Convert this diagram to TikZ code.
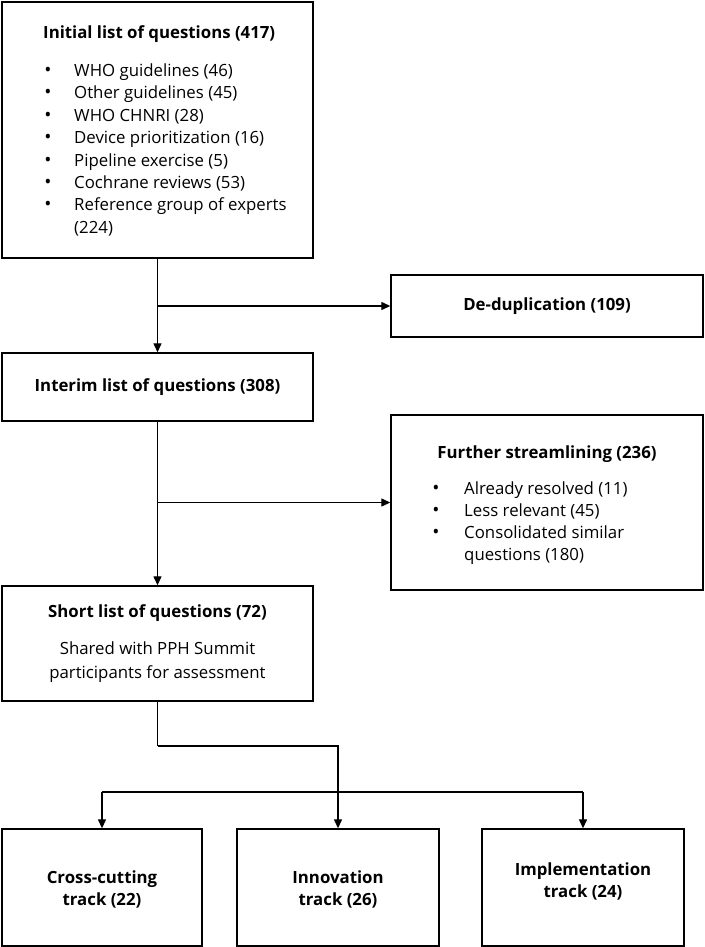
\documentclass[tikz,border=0pt]{standalone}
\usepackage{fontspec}
\setmainfont{Open Sans}
\usetikzlibrary{arrows.meta}
\begin{document}
\begin{tikzpicture}[x=1pt,y=-1pt,
  box/.style={draw, line width=1.4pt, inner sep=0pt},
  conn/.style={line width=1.3pt},
  arr/.style={line width=1.3pt, -{Triangle[length=9pt,width=8pt]}},
  txt/.style={inner sep=0pt, anchor=base west, font=\fontsize{16.8}{19}\selectfont},
  txtb/.style={inner sep=0pt, font=\fontsize{16.8}{19}\selectfont\bfseries},
  bul/.style={inner sep=0pt, anchor=base, font=\fontsize{19}{19}\selectfont},
  ctr/.style={inner sep=0pt, anchor=base, font=\fontsize{16.8}{19}\selectfont}
]
\useasboundingbox[fill=white] (0,0) rectangle (704,947);

% boxes
\node[box, minimum width=311pt, minimum height=256pt] (init) at (157.5,130) {};
\node[box, minimum width=312pt, minimum height=62pt] (dedup) at (547,306) {};
\node[box, minimum width=311pt, minimum height=68pt] (interim) at (157.5,387) {};
\node[box, minimum width=312pt, minimum height=175pt] (further) at (547,502.5) {};
\node[box, minimum width=311pt, minimum height=115pt] (short) at (157.5,643.5) {};
\node[box, minimum width=200pt, minimum height=117pt] (cross) at (102,887.5) {};
\node[box, minimum width=202pt, minimum height=117pt] (innov) at (338,887.5) {};
\node[box, minimum width=202pt, minimum height=117pt] (impl) at (583,887.5) {};

% initial list text
\node[txtb, anchor=base west] (t1) at (43,38.5) {Initial list of questions (417)};
\node[bul] (b11) at (48,76.5) {•};
\node[bul] (b12) at (48,98.9) {•};
\node[bul] (b13) at (48,121.3) {•};
\node[bul] (b14) at (48,143.7) {•};
\node[bul] (b15) at (48,166.1) {•};
\node[bul] (b16) at (48,188.5) {•};
\node[bul] (b17) at (48,210.9) {•};
\node[txt] (l11) at (74,76.5) {WHO guidelines (46)};
\node[txt] (l12) at (74,98.9) {Other guidelines (45)};
\node[txt] (l13) at (74,121.3) {WHO CHNRI (28)};
\node[txt] (l14) at (74,143.7) {Device prioritization (16)};
\node[txt] (l15) at (74,166.1) {Pipeline exercise (5)};
\node[txt] (l16) at (74,188.5) {Cochrane reviews (53)};
\node[txt] (l17) at (74,210.9) {Reference group of experts};
\node[txt] (l18) at (74,233.3) {(224)};

% de-dup
\node[txtb] (t2) at (547,306) {De-duplication (109)};
% interim
\node[txtb] (t3) at (157.5,387) {Interim list of questions (308)};

% further
\node[txtb, anchor=base] (t4) at (547,458.5) {Further streamlining (236)};
\node[bul] (b41) at (436,494.5) {•};
\node[bul] (b42) at (436,516.5) {•};
\node[bul] (b43) at (436,538.5) {•};
\node[txt] (l41) at (464,494.5) {Already resolved (11)};
\node[txt] (l42) at (464,516.5) {Less relevant (45)};
\node[txt] (l43) at (464,538.5) {Consolidated similar};
\node[txt] (l44) at (464,560.5) {questions (180)};

% short list
\node[txtb, anchor=base] (t5) at (157.5,617.5) {Short list of questions (72)};
\node[ctr] (l51) at (157.5,654.5) {Shared with PPH Summit};
\node[ctr] (l52) at (157.5,678.5) {participants for assessment};

% tracks
\node[txtb, anchor=base] (t61) at (102,883.5) {Cross-cutting};
\node[txtb, anchor=base] (t62) at (102,905.5) {track (22)};
\node[txtb, anchor=base] (t71) at (338,883.5) {Innovation};
\node[txtb, anchor=base] (t72) at (338,905.5) {track (26)};
\node[txtb, anchor=base] (t81) at (583,875.5) {Implementation};
\node[txtb, anchor=base] (t82) at (583,897.5) {track (24)};

% connectors
\draw[arr] (init.south) -- (interim.north);
\coordinate (j1) at (init.south |- dedup.west);
\draw[arr] (j1) -- (dedup.west);
\draw[arr] (interim.south) -- (short.north);
\coordinate (j2) at (interim.south |- further.west);
\draw[arr] (j2) -- (further.west);
\coordinate (j3) at (157.5,746);
\draw[conn] (short.south) -- (j3);
\draw[arr] (j3) -| (innov.north);
\coordinate (bl) at (102,792);
\coordinate (br) at (583,792);
\draw[conn] (bl) -- (br);
\draw[arr] (bl) -- (cross.north);
\draw[arr] (br) -- (impl.north);
\end{tikzpicture}
\end{document}
